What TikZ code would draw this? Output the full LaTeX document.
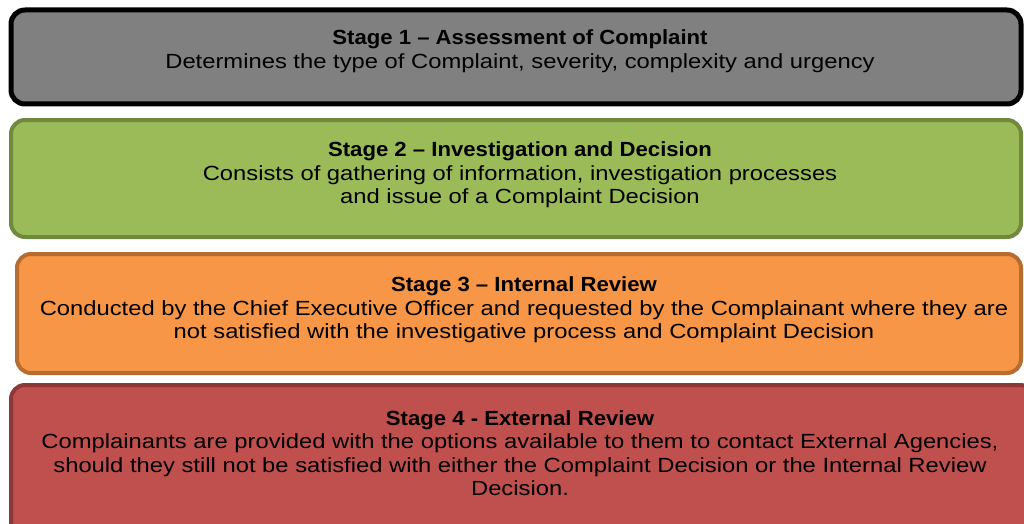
\documentclass[tikz,border=0pt]{standalone}
\usepackage{fontspec}
\setmainfont{Liberation Sans}[FakeStretch=1.16]
\newfontfamily\titlefont{Liberation Sans}[FakeStretch=1.08]
\definecolor{gfill}{HTML}{808080}
\definecolor{gline}{HTML}{000000}
\definecolor{grfill}{HTML}{9BBB59}
\definecolor{grline}{HTML}{71893F}
\definecolor{orfill}{HTML}{F79646}
\definecolor{orline}{HTML}{B66D31}
\definecolor{rdfill}{HTML}{C0504D}
\definecolor{rdline}{HTML}{8C3836}
\newcommand{\stitle}[1]{{\titlefont\bfseries #1}}
\tikzset{
  stagebox/.style={rounded corners=14pt, line width=4pt},
  stagetext/.style={align=center, font=\fontsize{20.5}{23.5}\selectfont, text=black, inner sep=0pt}
}
\begin{document}
\begin{tikzpicture}[x=1pt,y=-1pt]
\useasboundingbox (0,0) rectangle (1024,524);
\fill[white] (0,0) rectangle (1024,524);
% boxes
\draw[stagebox, fill=gfill, draw=gline, line width=5pt] (11,10) rectangle (1021,104);
\draw[stagebox, fill=grfill, draw=grline] (11,120) rectangle (1021,237);
\draw[stagebox, fill=orfill, draw=orline] (17,254) rectangle (1021,373);
\draw[stagebox, fill=rdfill, draw=rdline] (11,385) rectangle (1034,540);
% texts
\node[stagetext] (t1) at (520,51) {\stitle{Stage 1 – Assessment of Complaint}\\Determines the type of Complaint, severity, complexity and urgency};
\node[stagetext] (t2) at (520,175) {\stitle{Stage 2 – Investigation and Decision}\\Consists of gathering of information, investigation processes\\and issue of a Complaint Decision};
\node[stagetext] (t3) at (524,310) {\stitle{Stage 3 – Internal Review}\\Conducted by the Chief Executive Officer and requested by the Complainant where they are\\not satisfied with the investigative process and Complaint Decision};
\node[stagetext] (t4) at (520,453) {\stitle{Stage 4 - External Review}\\Complainants are provided with the options available to them to contact External Agencies,\\should they still not be satisfied with either the Complaint Decision or the Internal Review\\Decision.};
\end{tikzpicture}
\end{document}
